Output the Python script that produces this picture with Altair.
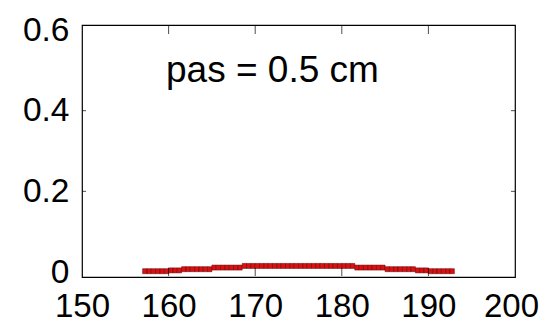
import altair as alt
import pandas as pd

# bin starts (cm), bin width 0.5
bin_start = [157.0 + 0.5 * i for i in range(72)]
levels = (
    [0.002] * 6      # 157-160
    + [0.004] * 3    # 160-161.5
    + [0.007] * 7    # 161.5-165
    + [0.011] * 7    # 165-168.5
    + [0.015] * 26   # 168.5-181.5
    + [0.011] * 7    # 181.5-185
    + [0.007] * 7    # 185-188.5
    + [0.004] * 3    # 188.5-190
    + [0.002] * 6    # 190-193
)
x_ticks = [150, 160, 170, 180, 190, 200]
y_ticks = [0, 0.2, 0.4, 0.6]
label_text = ["pas = 0.5 cm"]

df = pd.DataFrame({"start": bin_start, "end": [b + 0.5 for b in bin_start], "value": levels})

xs = alt.Scale(domain=[150, 200], nice=False)
ys = alt.Scale(domain=[0, 0.6], nice=False)

font = "Liberation Sans"

bars = alt.Chart(df).mark_bar(color="#dc1010", stroke="#5a0000", strokeWidth=0.5).encode(
    x=alt.X("start:Q", scale=xs, axis=alt.Axis(values=x_ticks, title=None, grid=False, domain=False,
                                                 tickSize=0, labelFontSize=33, labelFont=font,
                                                 labelColor="black", labelPadding=13, format="d",
                                                 labelFlush=False,
                                                 labelOffset={"condition": {"test": "datum.value == 200", "value": -4}, "value": 0})),
    x2="end:Q",
    y=alt.Y("value:Q", scale=ys, axis=alt.Axis(values=y_ticks, title=None, grid=False, domain=False,
                                                tickSize=0, labelFontSize=33.5, labelFont=font,
                                                labelColor="black", labelPadding=13,
                                                labelFlush=False, format="~g")),
)

txt = alt.Chart(pd.DataFrame({"x": [159.7], "y": [0.499], "t": label_text})).mark_text(
    align="left", baseline="middle", fontSize=37, font=font, color="black"
).encode(x=alt.X("x:Q", scale=xs), y=alt.Y("y:Q", scale=ys), text="t:N")

# inward ticks
yt = pd.DataFrame({"y": [0.2, 0.4, 0.2, 0.4], "x": [150, 150, 200, 200]})
ytick = alt.Chart(yt).mark_tick(orient="horizontal", size=8, color="black", clip=True, thickness=1).encode(
    x=alt.X("x:Q", scale=xs), y=alt.Y("y:Q", scale=ys))
xt = pd.DataFrame({"x": [160, 170, 180, 190] * 2, "y": [0] * 4 + [0.6] * 4})
xtick = alt.Chart(xt).mark_tick(orient="vertical", size=8, color="black", clip=True, thickness=1).encode(
    x=alt.X("x:Q", scale=xs), y=alt.Y("y:Q", scale=ys))

chart = alt.layer(bars, txt, ytick, xtick).properties(
    width=433, height=252,
    autosize=alt.AutoSizeParams(type="none"),
    padding={"left": 74, "top": 17, "right": 24, "bottom": 50},
    background="white",
).configure_view(stroke="black", strokeWidth=1.2)

chart.save("out.html", embed_options={"renderer": "svg", "actions": False})
